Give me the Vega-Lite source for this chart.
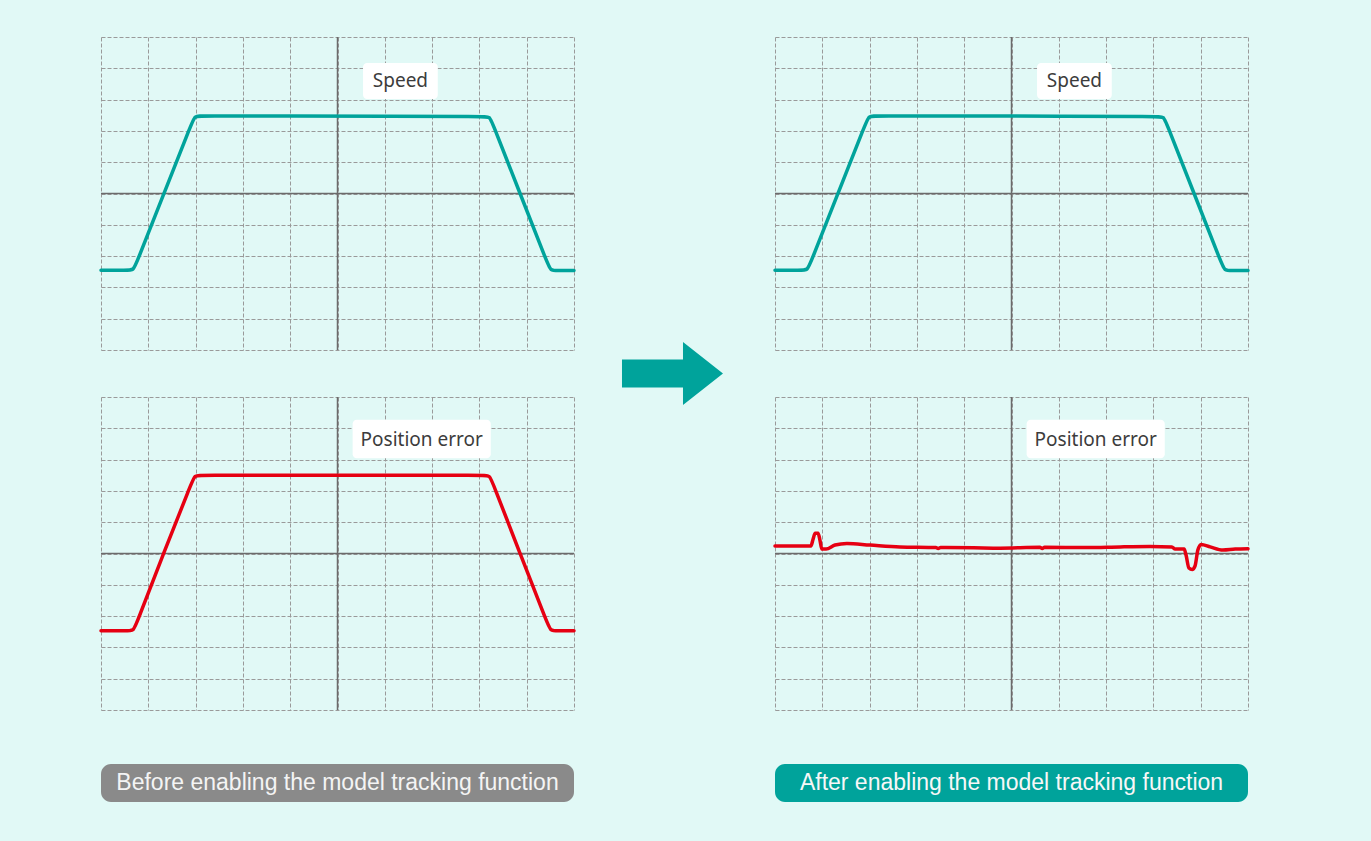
{
  "$schema": "https://vega.github.io/schema/vega-lite/v6.json",
  "background": "#e1f9f6",
  "padding": {"left": 94, "top": 36, "right": 122, "bottom": 39},
  "config": {
    "view": {"stroke": null},
    "axis": {"labels": false, "ticks": false, "domain": false, "title": null, "grid": true, "tickCount": 10, "gridDash": [4, 2], "gridColor": "#9a9a9a", "gridWidth": 1, "gridOpacity": 1}
  },
  "datasets": {
    "speed": [
      {"x": 0, "y": -2.45}, {"x": 0.55, "y": -2.45}, {"x": 0.69, "y": -2.45}, {"x": 0.75, "y": -2.22}, {"x": 1.33, "y": 0},
      {"x": 1.92, "y": 2.25}, {"x": 1.98, "y": 2.48}, {"x": 2.12, "y": 2.48}, {"x": 4, "y": 2.48}, {"x": 6, "y": 2.47},
      {"x": 8.08, "y": 2.46}, {"x": 8.22, "y": 2.46}, {"x": 8.28, "y": 2.23}, {"x": 8.86, "y": 0}, {"x": 9.44, "y": -2.23},
      {"x": 9.5, "y": -2.46}, {"x": 9.64, "y": -2.46}, {"x": 10, "y": -2.46}
    ],
    "errBefore": [
      {"x": 0, "y": -2.47}, {"x": 0.55, "y": -2.47}, {"x": 0.69, "y": -2.47}, {"x": 0.75, "y": -2.24}, {"x": 1.32, "y": 0},
      {"x": 1.92, "y": 2.27}, {"x": 1.98, "y": 2.5}, {"x": 2.12, "y": 2.5}, {"x": 4, "y": 2.5}, {"x": 6, "y": 2.5},
      {"x": 8.08, "y": 2.5}, {"x": 8.22, "y": 2.5}, {"x": 8.28, "y": 2.26}, {"x": 8.86, "y": 0}, {"x": 9.44, "y": -2.24},
      {"x": 9.5, "y": -2.47}, {"x": 9.64, "y": -2.47}, {"x": 10, "y": -2.47}
    ],
    "errAfter": [
      {"x": 0, "y": 0.24}, {"x": 0.76, "y": 0.24}, {"x": 0.8, "y": 0.43}, {"x": 0.85, "y": 0.65}, {"x": 0.91, "y": 0.65},
      {"x": 0.95, "y": 0.43}, {"x": 0.99, "y": 0.14}, {"x": 1.08, "y": 0.14}, {"x": 1.27, "y": 0.27}, {"x": 1.52, "y": 0.32},
      {"x": 2.01, "y": 0.27}, {"x": 2.64, "y": 0.21}, {"x": 3.4, "y": 0.19}, {"x": 3.45, "y": 0.16}, {"x": 3.5, "y": 0.19},
      {"x": 4.2, "y": 0.18}, {"x": 4.76, "y": 0.17}, {"x": 5.6, "y": 0.2}, {"x": 5.65, "y": 0.16}, {"x": 5.7, "y": 0.2},
      {"x": 6.6, "y": 0.19}, {"x": 7.3, "y": 0.21}, {"x": 7.93, "y": 0.22}, {"x": 8.39, "y": 0.21}, {"x": 8.46, "y": 0.14},
      {"x": 8.65, "y": 0.14}, {"x": 8.69, "y": -0.05}, {"x": 8.75, "y": -0.46}, {"x": 8.82, "y": -0.51}, {"x": 8.88, "y": -0.4},
      {"x": 8.94, "y": 0.11}, {"x": 9.01, "y": 0.29}, {"x": 9.2, "y": 0.21}, {"x": 9.47, "y": 0.11}, {"x": 9.73, "y": 0.14},
      {"x": 10, "y": 0.15}
    ],
    "centerV": [{"x": 5}],
    "centerH": [{"y": 0}],
    "speedLabel": [{"x1": 5.54, "x2": 7.12, "y1": 4.17, "y2": 3.02, "tx": 6.33, "ty": 3.6, "label": "Speed"}],
    "errLabel": [{"x1": 5.32, "x2": 8.24, "y1": 4.27, "y2": 3.04, "tx": 6.78, "ty": 3.64, "label": "Position error"}],
    "arrow": [{"x": 0.49, "y": -0.075}],
    "btnBefore": [{"x1": 0, "x2": 1, "y1": 0, "y2": 1, "tx": 0.5, "ty": 0.5, "label": "Before enabling the model tracking function"}],
    "btnAfter": [{"x1": 0, "x2": 1, "y1": 0, "y2": 1, "tx": 0.5, "ty": 0.5, "label": "After enabling the model tracking function"}]
  },
  "bounds": "flush",
  "align": "each",
  "columns": 3,
  "spacing": {"row": 47, "column": 0},
  "concat": [
    {
      "width": 473, "height": 313,
      "layer": [
        {"data": {"name": "centerV"}, "mark": {"type": "rule", "color": "#6b6b6b", "strokeWidth": 1.5},
         "encoding": {"x": {"field": "x", "type": "quantitative", "scale": {"domain": [0, 10], "nice": false, "zero": false}}}},
        {"data": {"name": "centerH"}, "mark": {"type": "rule", "color": "#6b6b6b", "strokeWidth": 1.5},
         "encoding": {"y": {"field": "y", "type": "quantitative", "scale": {"domain": [-5, 5], "nice": false, "zero": false}}}},
        {"data": {"name": "speedLabel"}, "mark": {"type": "rect", "fill": "#ffffff", "cornerRadius": 4},
         "encoding": {"x": {"field": "x1", "type": "quantitative"}, "x2": {"field": "x2"}, "y": {"field": "y1", "type": "quantitative"}, "y2": {"field": "y2"}}},
        {"data": {"name": "speedLabel"}, "mark": {"type": "text", "font": "Noto Sans", "fontSize": 19, "color": "#3c3c3c", "align": "center", "baseline": "middle"},
         "encoding": {"x": {"field": "tx", "type": "quantitative"}, "y": {"field": "ty", "type": "quantitative"}, "text": {"field": "label"}}},
        {"data": {"name": "speed"}, "mark": {"type": "line", "color": "#00a39b", "strokeWidth": 3.5, "interpolate": "basis", "strokeCap": "round"},
         "encoding": {"x": {"field": "x", "type": "quantitative"}, "y": {"field": "y", "type": "quantitative"}}}
      ]
    },
    {
      "width": 201, "height": 313,
      "data": {"name": "arrow"},
      "mark": {"type": "point", "filled": true, "opacity": 1, "color": "#00a39b", "strokeWidth": 0,
               "shape": "M-1,-0.277L0.208,-0.277L0.208,-0.624L1,0L0.208,0.624L0.208,0.277L-1,0.277Z", "size": 10201},
      "encoding": {
        "x": {"field": "x", "type": "quantitative", "scale": {"domain": [0, 1], "nice": false}, "axis": null},
        "y": {"field": "y", "type": "quantitative", "scale": {"domain": [0, 1], "nice": false}, "axis": null}
      }
    },
    {
      "width": 473, "height": 313,
      "layer": [
        {"data": {"name": "centerV"}, "mark": {"type": "rule", "color": "#6b6b6b", "strokeWidth": 1.5},
         "encoding": {"x": {"field": "x", "type": "quantitative", "scale": {"domain": [0, 10], "nice": false, "zero": false}}}},
        {"data": {"name": "centerH"}, "mark": {"type": "rule", "color": "#6b6b6b", "strokeWidth": 1.5},
         "encoding": {"y": {"field": "y", "type": "quantitative", "scale": {"domain": [-5, 5], "nice": false, "zero": false}}}},
        {"data": {"name": "speedLabel"}, "mark": {"type": "rect", "fill": "#ffffff", "cornerRadius": 4},
         "encoding": {"x": {"field": "x1", "type": "quantitative"}, "x2": {"field": "x2"}, "y": {"field": "y1", "type": "quantitative"}, "y2": {"field": "y2"}}},
        {"data": {"name": "speedLabel"}, "mark": {"type": "text", "font": "Noto Sans", "fontSize": 19, "color": "#3c3c3c", "align": "center", "baseline": "middle"},
         "encoding": {"x": {"field": "tx", "type": "quantitative"}, "y": {"field": "ty", "type": "quantitative"}, "text": {"field": "label"}}},
        {"data": {"name": "speed"}, "mark": {"type": "line", "color": "#00a39b", "strokeWidth": 3.5, "interpolate": "basis", "strokeCap": "round"},
         "encoding": {"x": {"field": "x", "type": "quantitative"}, "y": {"field": "y", "type": "quantitative"}}}
      ]
    },
    {
      "width": 473, "height": 313,
      "layer": [
        {"data": {"name": "centerV"}, "mark": {"type": "rule", "color": "#6b6b6b", "strokeWidth": 1.5},
         "encoding": {"x": {"field": "x", "type": "quantitative", "scale": {"domain": [0, 10], "nice": false, "zero": false}}}},
        {"data": {"name": "centerH"}, "mark": {"type": "rule", "color": "#6b6b6b", "strokeWidth": 1.5},
         "encoding": {"y": {"field": "y", "type": "quantitative", "scale": {"domain": [-5, 5], "nice": false, "zero": false}}}},
        {"data": {"name": "errLabel"}, "mark": {"type": "rect", "fill": "#ffffff", "cornerRadius": 4},
         "encoding": {"x": {"field": "x1", "type": "quantitative"}, "x2": {"field": "x2"}, "y": {"field": "y1", "type": "quantitative"}, "y2": {"field": "y2"}}},
        {"data": {"name": "errLabel"}, "mark": {"type": "text", "font": "Noto Sans", "fontSize": 19, "color": "#3c3c3c", "align": "center", "baseline": "middle"},
         "encoding": {"x": {"field": "tx", "type": "quantitative"}, "y": {"field": "ty", "type": "quantitative"}, "text": {"field": "label"}}},
        {"data": {"name": "errBefore"}, "mark": {"type": "line", "color": "#e60012", "strokeWidth": 3.5, "interpolate": "basis", "strokeCap": "round"},
         "encoding": {"x": {"field": "x", "type": "quantitative"}, "y": {"field": "y", "type": "quantitative"}}}
      ]
    },
    {
      "width": 201, "height": 313,
      "data": {"values": []},
      "mark": {"type": "point", "opacity": 0},
      "encoding": {}
    },
    {
      "width": 473, "height": 313,
      "layer": [
        {"data": {"name": "centerV"}, "mark": {"type": "rule", "color": "#6b6b6b", "strokeWidth": 1.5},
         "encoding": {"x": {"field": "x", "type": "quantitative", "scale": {"domain": [0, 10], "nice": false, "zero": false}}}},
        {"data": {"name": "centerH"}, "mark": {"type": "rule", "color": "#6b6b6b", "strokeWidth": 1.5},
         "encoding": {"y": {"field": "y", "type": "quantitative", "scale": {"domain": [-5, 5], "nice": false, "zero": false}}}},
        {"data": {"name": "errLabel"}, "mark": {"type": "rect", "fill": "#ffffff", "cornerRadius": 4},
         "encoding": {"x": {"field": "x1", "type": "quantitative"}, "x2": {"field": "x2"}, "y": {"field": "y1", "type": "quantitative"}, "y2": {"field": "y2"}}},
        {"data": {"name": "errLabel"}, "mark": {"type": "text", "font": "Noto Sans", "fontSize": 19, "color": "#3c3c3c", "align": "center", "baseline": "middle"},
         "encoding": {"x": {"field": "tx", "type": "quantitative"}, "y": {"field": "ty", "type": "quantitative"}, "text": {"field": "label"}}},
        {"data": {"name": "errAfter"}, "mark": {"type": "line", "color": "#e60012", "strokeWidth": 3.5, "interpolate": "monotone", "strokeCap": "round"},
         "encoding": {"x": {"field": "x", "type": "quantitative"}, "y": {"field": "y", "type": "quantitative"}}}
      ]
    },
    {
      "width": 473, "height": 45,
      "layer": [
        {"data": {"name": "btnBefore"}, "mark": {"type": "rect", "fill": "#8a8a8a", "cornerRadius": 10},
         "encoding": {"x": {"field": "x1", "type": "quantitative", "scale": {"domain": [0, 1], "nice": false}, "axis": null}, "x2": {"field": "x2"},
                      "y": {"field": "y1", "type": "quantitative", "scale": {"domain": [0, 1.1842], "nice": false, "zero": false}, "axis": null}, "y2": {"field": "y2"}}},
        {"data": {"name": "btnBefore"}, "mark": {"type": "text", "font": "Liberation Sans", "fontSize": 23, "color": "#f4f4f4", "align": "center", "baseline": "middle"},
         "encoding": {"x": {"field": "tx", "type": "quantitative"}, "y": {"field": "ty", "type": "quantitative"}, "text": {"field": "label"}}}
      ]
    },
    {
      "width": 201, "height": 45,
      "data": {"values": []},
      "mark": {"type": "point", "opacity": 0},
      "encoding": {}
    },
    {
      "width": 473, "height": 45,
      "layer": [
        {"data": {"name": "btnAfter"}, "mark": {"type": "rect", "fill": "#00a39b", "cornerRadius": 10},
         "encoding": {"x": {"field": "x1", "type": "quantitative", "scale": {"domain": [0, 1], "nice": false}, "axis": null}, "x2": {"field": "x2"},
                      "y": {"field": "y1", "type": "quantitative", "scale": {"domain": [0, 1.1842], "nice": false, "zero": false}, "axis": null}, "y2": {"field": "y2"}}},
        {"data": {"name": "btnAfter"}, "mark": {"type": "text", "font": "Liberation Sans", "fontSize": 23, "color": "#f7f7f7", "align": "center", "baseline": "middle"},
         "encoding": {"x": {"field": "tx", "type": "quantitative"}, "y": {"field": "ty", "type": "quantitative"}, "text": {"field": "label"}}}
      ]
    }
  ]
}
